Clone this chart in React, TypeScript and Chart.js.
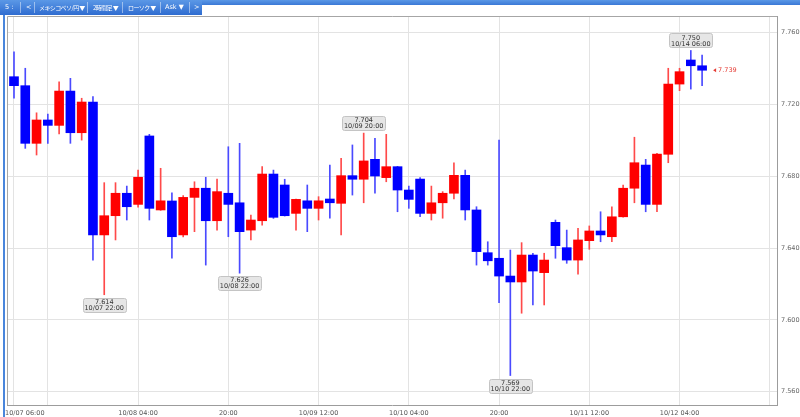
import React, { useEffect, useRef } from 'react';
import { Chart, registerables } from 'chart.js';

Chart.register(...registerables);

// 2-hour candles, MXN/JPY, 10/07 06:00 .. 10/14 08:00
const candleOpen = [
  7.7354, 7.7304, 7.6983, 7.7113, 7.7083, 7.7274, 7.7042, 7.7213, 7.6473, 7.6580,
  7.6705, 7.6643, 7.7024, 7.6612, 7.6662, 7.6473, 7.6682, 7.6733, 7.6552, 7.6705,
  7.6652, 7.6500, 7.6552, 7.6812, 7.6751, 7.6593, 7.6663, 7.6621, 7.6673, 7.6649,
  7.6803, 7.6783, 7.6894, 7.6792, 7.6853, 7.6723, 7.6784, 7.6593, 7.6652, 7.6705,
  7.6805, 7.6612, 7.6374, 7.6343, 7.6244, 7.6211, 7.6361, 7.6263, 7.6543, 7.6402,
  7.6333, 7.6441, 7.6495, 7.6463, 7.6574, 7.6733, 7.6862, 7.6643, 7.6922, 7.7313,
  7.7447, 7.7415,
];
const candleHigh = [
  7.7493, 7.7401, 7.7153, 7.7146, 7.7326, 7.7345, 7.7234, 7.7243, 7.6764, 7.6764,
  7.6745, 7.6834, 7.7033, 7.6844, 7.6708, 7.6692, 7.6769, 7.6794, 7.6784, 7.6964,
  7.6983, 7.6584, 7.6853, 7.6834, 7.6783, 7.6672, 7.6751, 7.6686, 7.6862, 7.6900,
  7.6974, 7.7040, 7.7011, 7.7033, 7.6855, 7.6745, 7.6792, 7.6745, 7.6714, 7.6875,
  7.6834, 7.6630, 7.6435, 7.7001, 7.6389, 7.6430, 7.6371, 7.6371, 7.6556, 7.6500,
  7.6510, 7.6523, 7.6602, 7.6630, 7.6751, 7.7017, 7.6894, 7.6927, 7.7401, 7.7401,
  7.7500, 7.7475,
];
const candleLow = [
  7.7234, 7.6955, 7.6918, 7.6983, 7.7035, 7.6983, 7.7001, 7.6333, 7.6140, 7.6445,
  7.6556, 7.6627, 7.6556, 7.6610, 7.6343, 7.6462, 7.6491, 7.6305, 7.6500, 7.6463,
  7.6260, 7.6445, 7.6528, 7.6565, 7.6578, 7.6500, 7.6491, 7.6556, 7.6566, 7.6473,
  7.6695, 7.6652, 7.6705, 7.6769, 7.6602, 7.6621, 7.6574, 7.6556, 7.6566, 7.6673,
  7.6556, 7.6305, 7.6305, 7.6096, 7.5690, 7.6037, 7.6083, 7.6083, 7.6343, 7.6315,
  7.6255, 7.6393, 7.6435, 7.6435, 7.6572, 7.6652, 7.6602, 7.6602, 7.6875, 7.7276,
  7.7285, 7.7304,
];
const candleClose = [
  7.7304, 7.6983, 7.7113, 7.7083, 7.7274, 7.7042, 7.7213, 7.6473, 7.6580, 7.6705,
  7.6630, 7.6794, 7.6621, 7.6663, 7.6463, 7.6682, 7.6733, 7.6552, 7.6714, 7.6643,
  7.6491, 7.6556, 7.6812, 7.6571, 7.6580, 7.6671, 7.6621, 7.6663, 7.6652, 7.6803,
  7.6783, 7.6885, 7.6801, 7.6853, 7.6723, 7.6671, 7.6593, 7.6652, 7.6705, 7.6805,
  7.6612, 7.6380, 7.6329, 7.6244, 7.6211, 7.6361, 7.6272, 7.6333, 7.6413, 7.6333,
  7.6445, 7.6495, 7.6473, 7.6574, 7.6733, 7.6875, 7.6643, 7.6923, 7.7313, 7.7382,
  7.7415, 7.7390,
];

const gridIndex = [0, 3, 11, 19, 27, 35, 43, 51, 59, 67];
const xLabelIndex = [0, 11, 19, 27, 35, 43, 51, 59];
const xLabelText = ['10/07 06:00', '10/08 04:00', '20:00', '10/09 12:00', '10/10 04:00', '20:00', '10/11 12:00', '10/12 04:00'];
const yTicks = [7.56, 7.6, 7.64, 7.68, 7.72, 7.76];

const markIndex = [8, 20, 31, 44, 60];
const markKind = ['low', 'low', 'high', 'low', 'high'];
const markTime = ['10/07 22:00', '10/08 22:00', '10/09 20:00', '10/10 22:00', '10/14 06:00'];
const lastPrice = 7.739;

const toolbarItems = [
  { x: 5, t: '5 :', cjk: false },
  { x: 26, t: '<', cjk: false },
  { x: 39, t: 'メキシコペソ/円 ▼', cjk: true },
  { x: 93, t: '2時間足 ▼', cjk: true },
  { x: 128, t: 'ローソク ▼', cjk: true },
  { x: 165, t: 'Ask ▼', cjk: false },
  { x: 194, t: '>', cjk: false },
];
const toolbarSeps = [20, 34, 87, 122, 160, 189];

const UP = '#ff0000';
const DOWN = '#0000ff';
const UP_WICK = '#ff4a4a';
const DOWN_WICK = '#4a4aff';
const FONT = '"DejaVu Sans", Verdana, sans-serif';

const overlayPlugin = {
  id: 'overlay',
  afterDraw(chart: any) {
    const { ctx, chartArea: a } = chart;
    const x = chart.scales.x;
    const y = chart.scales.y;
    ctx.save();
    // top & left frame
    ctx.strokeStyle = '#a6a6a6';
    ctx.lineWidth = 1;
    ctx.beginPath();
    ctx.moveTo(Math.round(a.left) + 0.5, a.bottom);
    ctx.lineTo(Math.round(a.left) + 0.5, Math.round(a.top) + 0.5);
    ctx.lineTo(a.right, Math.round(a.top) + 0.5);
    ctx.stroke();

    // x labels
    ctx.font = `6.5px ${FONT}`;
    ctx.fillStyle = '#555';
    ctx.textBaseline = 'middle';
    xLabelIndex.forEach((idx, k) => {
      const px = x.getPixelForValue(idx);
      if (k === 0) {
        ctx.textAlign = 'left';
        ctx.fillText(xLabelText[k], a.left - 2, a.bottom + 8);
      } else {
        ctx.textAlign = 'center';
        ctx.fillText(xLabelText[k], px, a.bottom + 8);
      }
    });

    // high / low callouts
    markIndex.forEach((idx, k) => {
      const isLow = markKind[k] === 'low';
      const val = isLow ? candleLow[idx] : candleHigh[idx];
      const px = x.getPixelForValue(idx);
      const py = y.getPixelForValue(val);
      const w = 43;
      const h = 14;
      const top = isLow ? py + 3 : py - 3 - h;
      const left = px - w / 2;
      ctx.fillStyle = '#e6e6e6';
      ctx.strokeStyle = '#c4c4c4';
      ctx.lineWidth = 1;
      ctx.beginPath();
      if ((ctx as any).roundRect) {
        (ctx as any).roundRect(Math.round(left) + 0.5, Math.round(top) + 0.5, w, h, 2);
      } else {
        ctx.rect(Math.round(left) + 0.5, Math.round(top) + 0.5, w, h);
      }
      ctx.fill();
      ctx.stroke();
      ctx.fillStyle = '#333';
      ctx.textAlign = 'center';
      ctx.textBaseline = 'middle';
      ctx.font = `6.5px ${FONT}`;
      ctx.fillText(val.toFixed(3), px, top + 4.5);
      ctx.fillText(markTime[k], px, top + 10.5);
    });

    // current price marker
    const lx = x.getPixelForValue(candleClose.length - 1);
    const ly = y.getPixelForValue(lastPrice);
    ctx.fillStyle = '#e53a33';
    ctx.beginPath();
    ctx.moveTo(lx + 11, ly);
    ctx.lineTo(lx + 14, ly - 2);
    ctx.lineTo(lx + 14, ly + 2);
    ctx.closePath();
    ctx.fill();
    ctx.font = `6.5px ${FONT}`;
    ctx.textAlign = 'left';
    ctx.textBaseline = 'middle';
    ctx.fillText(lastPrice.toFixed(3), lx + 16, ly);
    ctx.restore();
  },
};

export default function App() {
  const canvasRef = useRef<HTMLCanvasElement | null>(null);

  useEffect(() => {
    if (!canvasRef.current) return;
    const up = candleOpen.map((o, i) => candleClose[i] >= o);
    const bodies = candleOpen.map((o, i) => ({ x: i, y: [o, candleClose[i]] }));
    const wicks = candleOpen.map((o, i) => ({ x: i, y: [candleLow[i], candleHigh[i]] }));
    const chart = new Chart(canvasRef.current, {
      type: 'bar',
      data: {
        datasets: [
          {
            data: bodies as any,
            backgroundColor: up.map((u) => (u ? UP : DOWN)),
            borderWidth: 0,
            barThickness: 9,
            grouped: false,
            order: 0,
          } as any,
          {
            data: wicks as any,
            backgroundColor: up.map((u) => (u ? UP_WICK : DOWN_WICK)),
            borderWidth: 0,
            barThickness: 1,
            grouped: false,
            order: 1,
          } as any,
        ],
      },
      options: {
        animation: false,
        responsive: false,
        events: [],
        layout: { padding: { left: 7, top: 16, right: 0, bottom: 0 } },
        plugins: { legend: { display: false }, tooltip: { enabled: false } },
        scales: {
          x: {
            type: 'linear',
            min: -0.62,
            max: 67.64,
            offset: false,
            afterBuildTicks: (s: any) => {
              s.ticks = gridIndex.map((v) => ({ value: v }));
            },
            ticks: { display: false },
            grid: { color: '#e3e3e3', drawTicks: false, offset: false },
            border: { color: '#9c9c9c' },
            afterFit: (s: any) => {
              s.height = 12;
              s.paddingLeft = 0;
              s.paddingRight = 0;
            },
          } as any,
          y: {
            type: 'linear',
            position: 'right',
            min: 7.5526,
            max: 7.7692,
            afterBuildTicks: (s: any) => {
              s.ticks = yTicks.map((v) => ({ value: v }));
            },
            ticks: {
              callback: (v: any) => Number(v).toFixed(3),
              font: { family: FONT, size: 6.5 },
              color: '#666',
              padding: 4,
              autoSkip: false,
            },
            grid: { color: '#e3e3e3', drawTicks: false },
            border: { color: '#9c9c9c' },
            afterFit: (s: any) => {
              s.width = 23;
              s.paddingTop = 0;
              s.paddingBottom = 0;
            },
          } as any,
        },
      },
      plugins: [overlayPlugin],
    });
    return () => chart.destroy();
  }, []);

  return (
    <div style={{ position: 'fixed', left: 0, top: 0, width: 800, height: 417, background: '#fff', overflow: 'hidden' }}>
      <canvas ref={canvasRef} width={800} height={417} style={{ display: 'block', width: 800, height: 417 }} />
      <div style={{ position: 'absolute', left: 0, top: 0, width: 800, height: 5, background: 'linear-gradient(#5b98e6, #3a78d6)' }} />
      <div style={{ position: 'absolute', left: 0, top: 0, width: 202, height: 15, background: 'linear-gradient(#5b98e6, #2f6cd0)' }}>
        {toolbarItems.map((it, k) => (
          <span
            key={k}
            style={{
              position: 'absolute',
              left: it.x,
              top: 0,
              height: 15,
              lineHeight: '15px',
              fontSize: it.cjk ? 6 : 6.5,
              letterSpacing: it.cjk ? '-0.6px' : '0px',
              color: '#fff',
              whiteSpace: 'nowrap',
              fontFamily: it.cjk ? '"Noto Sans CJK JP", "DejaVu Sans", sans-serif' : '"DejaVu Sans", sans-serif',
            }}
          >
            {it.t}
          </span>
        ))}
        {toolbarSeps.map((sx, k) => (
          <div key={'s' + k} style={{ position: 'absolute', left: sx, top: 2, width: 1, height: 11, background: 'rgba(255,255,255,0.45)' }} />
        ))}
      </div>
      <div style={{ position: 'absolute', left: 3, top: 15, width: 2, height: 402, background: '#4a86dc' }} />
    </div>
  );
}
